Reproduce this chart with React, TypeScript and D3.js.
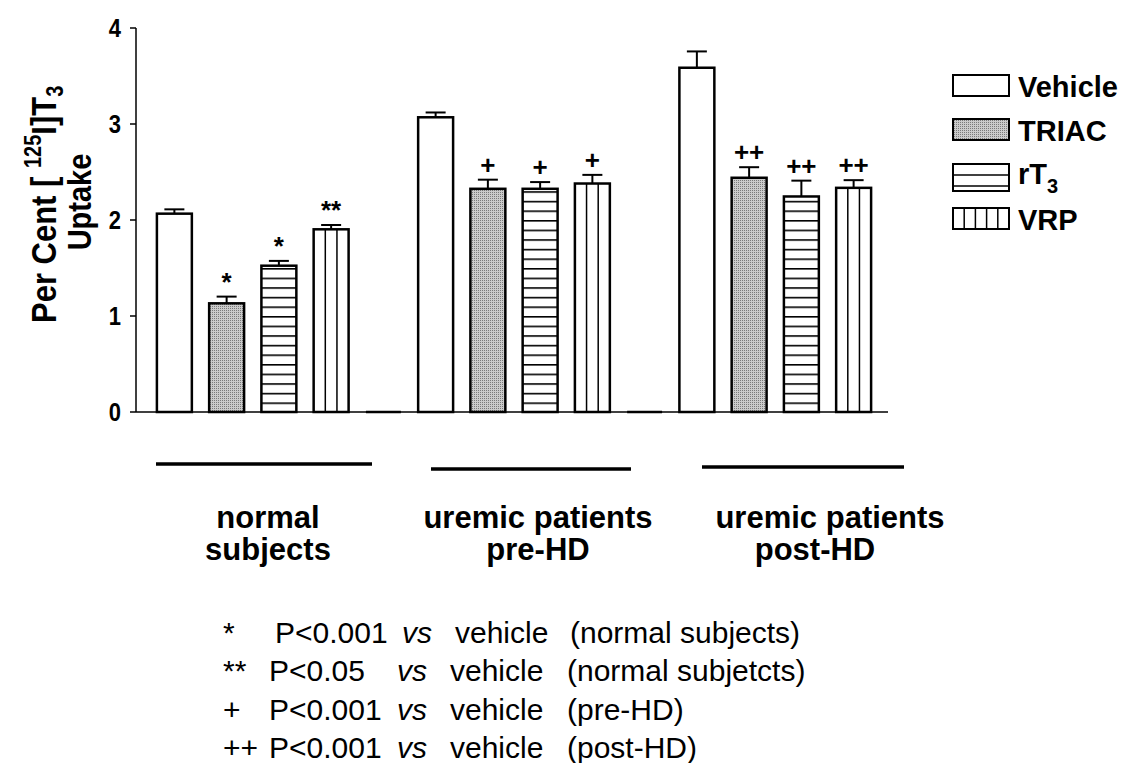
import React from "react";
import * as d3 from "d3";

const width = 1129;
const height = 763;
const font = "'Liberation Sans', Arial, Helvetica, sans-serif";

// data
const groupLabelLines = [
  ["normal", "subjects"],
  ["uremic patients", "pre-HD"],
  ["uremic patients", "post-HD"]
];
const treatments = ["Vehicle", "TRIAC", "rT3", "VRP"];
const vehicleMean = [2.066, 3.07, 3.586];
const triacMean = [1.132, 2.325, 2.44];
const rt3Mean = [1.524, 2.325, 2.245];
const vrpMean = [1.903, 2.38, 2.335];
const vehicleSem = [0.045, 0.05, 0.17];
const triacSem = [0.07, 0.095, 0.11];
const rt3Sem = [0.05, 0.07, 0.165];
const vrpSem = [0.045, 0.09, 0.08];
const vehicleMark = ["", "", ""];
const triacMark = ["*", "+", "++"];
const rt3Mark = ["*", "+", "++"];
const vrpMark = ["**", "+", "++"];
const yTicks = [0, 1, 2, 3, 4];

const footMarks = ["*", "**", "+", "++"];
const footP = ["P<0.001", "P<0.05", "P<0.001", "P<0.001"];
const footGroup = ["(normal subjects)", "(normal subjetcts)", "(pre-HD)", "(post-HD)"];

// layout
const axisX = 136;
const y = d3.scaleLinear().domain([0, 4]).range([412, 28]);
const x = d3
  .scaleBand<number>()
  .domain(d3.range(14))
  .range([axisX, 892])
  .paddingInner(0.331)
  .paddingOuter(0.4);
const bw = x.bandwidth();

const groupLineX = [[156, 372], [431, 631], [702, 904]];
const groupLineY = [464, 469, 467];
const groupLabelX = [[268, 268], [538, 538], [830, 815]];
const legendTop = [75, 119, 164, 208];
const legendH = [21, 21, 27, 21];

const means = [vehicleMean, triacMean, rt3Mean, vrpMean];
const sems = [vehicleSem, triacSem, rt3Sem, vrpSem];
const marks = [vehicleMark, triacMark, rt3Mark, vrpMark];

const bars = d3.range(3).flatMap((g) =>
  treatments.map((t, ti) => ({
    slot: g * 5 + ti,
    kind: ti,
    value: means[ti][g],
    sem: sems[ti][g],
    mark: marks[ti][g]
  }))
);
const spacers = [4, 9];

const fills = ["#ffffff", "url(#dots)", "url(#hlines)", "#ffffff"];

function App() {
  return (
    <svg
      width={width}
      height={height}
      style={{ position: "absolute", left: 0, top: 0, background: "#fff" }}
      fontFamily={font}
    >
      <defs>
        <pattern id="dots" width={2} height={2} patternUnits="userSpaceOnUse">
          <rect width={2} height={2} fill="#cbcbcb" />
          <rect width={1} height={1} fill="#7a7a7a" />
        </pattern>
        <pattern
          id="hlines"
          width={10}
          height={9.6}
          patternUnits="userSpaceOnUse"
          y={y(0)}
        >
          <rect width={10} height={9.6} fill="#fff" />
          <rect y={0} width={10} height={1.6} fill="#000" />
        </pattern>
      </defs>

      {/* y axis */}
      <line x1={axisX} x2={axisX} y1={y(4)} y2={y(0)} stroke="#000" strokeWidth={1.5} />
      {yTicks.map((t) => (
        <g key={t}>
          <line x1={axisX - 6} x2={axisX} y1={y(t)} y2={y(t)} stroke="#000" strokeWidth={1.5} />
          <text
            transform={`translate(121,${y(t)}) scale(1,1.2)`}
            textAnchor="end"
            dominantBaseline="central"
            fontSize={22}
            fontWeight="bold"
          >
            {t}
          </text>
        </g>
      ))}

      {/* y label */}
      <text
        transform={`translate(56,323) rotate(-90) scale(1,1.15)`}
        textAnchor="start"
        fontSize={31}
        fontWeight="bold"
      >
        Per Cent [ <tspan fontSize={20} dy={-13}>125</tspan>
        <tspan dy={13}>I]T</tspan>
        <tspan fontSize={20} dy={6}>3</tspan>
      </text>
      <text
        transform={`translate(91,202) rotate(-90) scale(1,1.15)`}
        textAnchor="middle"
        fontSize={29}
        fontWeight="bold"
      >
        Uptake
      </text>

      {/* x axis */}
      <line x1={axisX} x2={x.range()[1] - 4} y1={y(0)} y2={y(0)} stroke="#000" strokeWidth={1.5} />
      {spacers.map((s) => (
        <line key={s} x1={x(s)} x2={x(s)! + bw} y1={y(0)} y2={y(0)} stroke="#000" strokeWidth={2.5} />
      ))}

      {/* bars */}
      {bars.map((d) => {
        const x0 = x(d.slot)!;
        const top = y(d.value);
        const capY = y(d.value + d.sem);
        const cx = x0 + bw / 2;
        return (
          <g key={d.slot}>
            <line x1={cx} x2={cx} y1={top} y2={capY} stroke="#000" strokeWidth={2} />
            <line x1={cx - 10} x2={cx + 10} y1={capY} y2={capY} stroke="#000" strokeWidth={2} />
            <rect
              x={x0}
              y={top}
              width={bw}
              height={y(0) - top}
              fill={fills[d.kind]}
              stroke="#000"
              strokeWidth={2.5}
            />
            {d.kind === 3 &&
              [1, 2].map((k) => (
                <line
                  key={k}
                  x1={x0 + (bw * k) / 3}
                  x2={x0 + (bw * k) / 3}
                  y1={top}
                  y2={y(0)}
                  stroke="#000"
                  strokeWidth={1.5}
                />
              ))}
            {d.mark && (
              <text
                x={cx}
                y={capY - 6}
                textAnchor="middle"
                fontSize={26}
                fontWeight="bold"
              >
                {d.mark}
              </text>
            )}
          </g>
        );
      })}

      {/* group lines and labels */}
      {groupLabelLines.map((lines, g) => (
        <g key={g}>
          <line
            x1={groupLineX[g][0]}
            x2={groupLineX[g][1]}
            y1={groupLineY[g]}
            y2={groupLineY[g]}
            stroke="#000"
            strokeWidth={3.5}
          />
          {lines.map((l, i) => (
            <text
              key={i}
              x={groupLabelX[g][i]}
              y={528 + i * 32}
              textAnchor="middle"
              fontSize={31}
              fontWeight="bold"
            >
              {l}
            </text>
          ))}
        </g>
      ))}

      {/* legend */}
      {treatments.map((t, i) => {
        const top = legendTop[i];
        const h = legendH[i];
        return (
          <g key={t}>
            <rect
              x={953}
              y={top}
              width={56}
              height={h}
              fill={i === 1 ? "url(#dots)" : "#fff"}
              stroke="#000"
              strokeWidth={2}
            />
            {i === 2 &&
              [1, 2].map((k) => (
                <line key={k} x1={953} x2={1009} y1={top + k * 11} y2={top + k * 11} stroke="#000" strokeWidth={1.5} />
              ))}
            {i === 3 &&
              [1, 2, 3, 4].map((k) => (
                <line key={k} x1={953 + k * 11.2} x2={953 + k * 11.2} y1={top} y2={top + h} stroke="#000" strokeWidth={1.5} />
              ))}
            <text x={1018} y={i === 2 ? top + 20 : top + h + 1} fontSize={29} fontWeight="bold">
              {t === "rT3" ? (
                <>
                  rT<tspan fontSize={20} dy={9}>3</tspan>
                </>
              ) : (
                t
              )}
            </text>
          </g>
        );
      })}

      {/* footnotes */}
      {footMarks.map((m, i) => {
        const by = 643 + i * 38.3;
        const px = i === 0 ? 275 : 269;
        const vx = i === 0 ? 402 : 397;
        const hx = i === 0 ? 455 : 450;
        const gx = i === 0 ? 570 : 567;
        return (
          <g key={i} fontSize={30}>
            <text x={223} y={by}>{m}</text>
            <text x={px} y={by}>{footP[i]}</text>
            <text x={vx} y={by} fontStyle="italic">vs</text>
            <text x={hx} y={by}>vehicle</text>
            <text x={gx} y={by}>{footGroup[i]}</text>
          </g>
        );
      })}
    </svg>
  );
}

export default App;
